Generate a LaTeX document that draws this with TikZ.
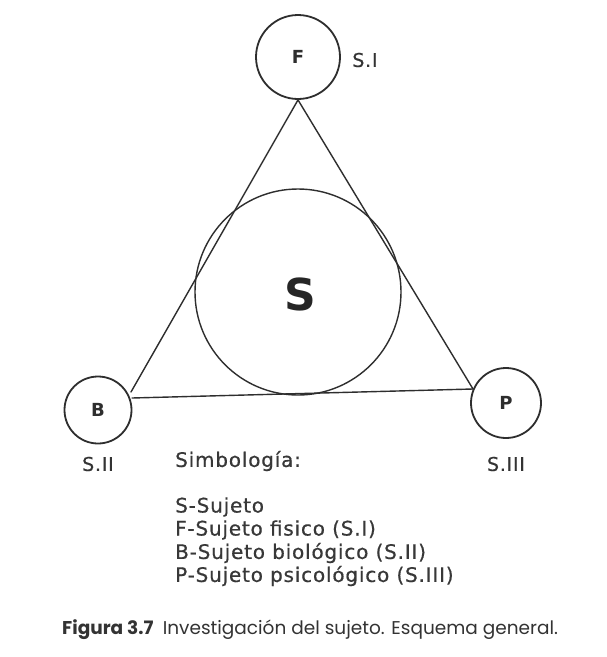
\documentclass[tikz,border=0pt]{standalone}
\usepackage{fontspec}
\setmainfont{DejaVu Sans}
\newfontfamily\legfont[LetterSpace=4,FakeBold=0.6]{DejaVu Sans}
\newfontfamily\capfont{Poppins}
\begin{document}
\begin{tikzpicture}[x=1pt,y=-1pt,
  ring/.style={circle,draw=black!82,line width=1.8pt,inner sep=0pt},
  edge/.style={draw=black!82,line width=1.4pt,line cap=round},
  lbl/.style={font=\fontsize{18}{20}\selectfont\bfseries,text=black!82},
  side/.style={font=\legfont\fontsize{19}{22}\selectfont,text=black!80},
  legend/.style={font=\legfont\fontsize{20}{22}\selectfont,text=black!78,anchor=west,inner sep=0pt}]
\useasboundingbox[fill=white] (0,0) rectangle (607,657);
\node[ring,minimum size=84pt] (F) at (298,57) {};
\node[ring,minimum size=67pt] (B) at (98,410) {};
\node[ring,minimum size=70pt] (P) at (506,403) {};
\node[ring,minimum size=206pt,line width=1.4pt] (S) at (298,292) {};
\node[lbl] at (F.center) {F};
\node[lbl] at (B.center) {B};
\node[lbl] at (P.center) {P};
\node[font=\fontsize{44}{48}\selectfont\bfseries,text=black!85] at (300,294) {S};
\node[side] (l1) at (365,60) {S.I};
\node[side] (l2) at (98,464) {S.II};
\node[side] (l3) at (506,464) {S.III};
\coordinate (tF) at (F.south);
\coordinate (tB1) at (131,392);
\coordinate (tB2) at (132,398);
\coordinate (tP) at (473,389);
\draw[edge] (tF) -- (tB1);
\draw[edge] (tB2) -- (tP);
\draw[edge] (tP) -- (tF);
\node[legend] (leg0) at (175,461) {Simbología:};
\node[legend] (leg1) at (175,507) {S-Sujeto};
\node[legend] (leg2) at (175,530) {F-Sujeto fisico (S.I)};
\node[legend] (leg3) at (175,553) {B-Sujeto biológico (S.II)};
\node[legend] (leg4) at (175,576) {P-Sujeto psicológico (S.III)};
\node[font=\capfont\fontsize{18.5}{20}\selectfont,text=black!80,anchor=west,inner sep=0pt] (cap) at (62,630) {\textbf{Figura 3.7}\enspace Investigación del sujeto. Esquema general.};
\end{tikzpicture}
\end{document}
